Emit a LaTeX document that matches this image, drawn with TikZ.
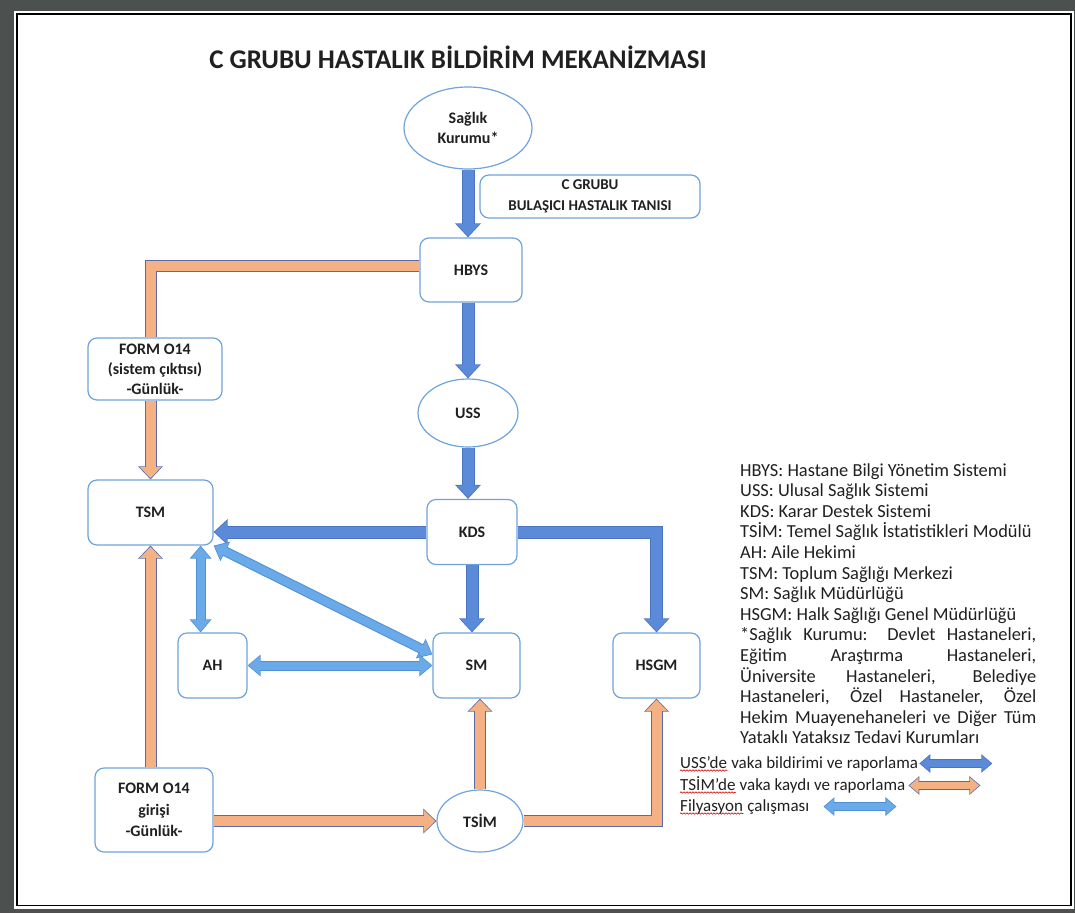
\documentclass[tikz,border=0pt]{standalone}
\usepackage{fontspec}
\setmainfont{Carlito}
\usetikzlibrary{shapes.geometric,arrows.meta,decorations.pathmorphing}
\definecolor{nodeblue}{HTML}{6FA3DC}
\definecolor{ussfill}{HTML}{5B8AD9}
\definecolor{ussline}{HTML}{4A74C2}
\definecolor{tsimfill}{HTML}{F4B183}
\definecolor{tsimline}{HTML}{5A6AA8}
\definecolor{filfill}{HTML}{6AAAE8}
\definecolor{filline}{HTML}{4E8FD6}
\definecolor{txt}{HTML}{202020}
\definecolor{framegray}{HTML}{4C5150}
\begin{document}
\begin{tikzpicture}[x=1pt, y=-1pt,
  box/.style={draw=nodeblue, line width=1.2pt, rounded corners=9pt, fill=white, align=center, inner sep=0pt, text=txt, font=\bfseries\fontsize{16}{20}\selectfont},
  oval/.style={ellipse, draw=nodeblue, line width=1.2pt, fill=white, align=center, inner sep=0pt, text=txt, font=\bfseries\fontsize{16}{20}\selectfont},
  uss/.style={draw=ussfill, line width=11pt, shorten >=1.3pt, -{Triangle[width=22pt,length=12pt]},
    preaction={draw=ussline, line width=13pt, shorten >=0pt, -{Triangle[width=25pt,length=14pt]}}},
  tsim/.style={draw=tsimfill, line width=10pt, shorten >=1.3pt, -{Triangle[width=21pt,length=11pt]},
    preaction={draw=tsimline, line width=12pt, shorten >=0pt, -{Triangle[width=24pt,length=13pt]}}},
  tsimbar/.style={draw=tsimfill, line width=10pt, preaction={draw=tsimline, line width=12pt}},
  fil/.style={draw=filfill, line width=8pt, shorten >=1.2pt, shorten <=1.2pt,
    {Triangle[width=18pt,length=11pt]}-{Triangle[width=18pt,length=11pt]},
    preaction={draw=filline, line width=10pt, shorten >=0pt, shorten <=0pt,
    {Triangle[width=21pt,length=13pt]}-{Triangle[width=21pt,length=13pt]}}},
  legarr/.style 2 args={draw=#1, line width=7pt, shorten >=1.2pt, shorten <=1.2pt,
    {Triangle[width=15pt,length=9pt]}-{Triangle[width=15pt,length=9pt]},
    preaction={draw=#2, line width=9pt, shorten >=0pt, shorten <=0pt,
    {Triangle[width=18pt,length=11pt]}-{Triangle[width=18pt,length=11pt]}}},
  legtxt/.style={inner sep=0pt, anchor=base west, text=txt, font=\fontsize{17}{20.6}\selectfont},
  wavy/.style={draw=red!85!black, line width=0.6pt, decorate, decoration={snake, amplitude=0.7pt, segment length=3pt}}]
\useasboundingbox (0,0) rectangle (1075,913);
\fill[framegray] (0,0) rectangle (1075,913);
\fill[white] (14,11) rectangle (1074,909);
\draw[black, line width=1.5pt] (17,14) rectangle (1071,905.5);

\node[text=txt, font=\bfseries\fontsize{27}{32}\selectfont] (title) at (458,57) {C GRUBU HASTALIK BİLDİRİM MEKANİZMASI};

\node[oval, minimum width=128pt, minimum height=82pt] (saglik) at (468,128) {Sağlık\\Kurumu*};
\node[box, minimum width=220pt, minimum height=43pt, font=\bfseries\fontsize{15}{21}\selectfont] (tani) at (590,196.5) {C GRUBU\\BULAŞICI HASTALIK TANISI};
\node[box, minimum width=102pt, minimum height=64pt] (hbys) at (471,270) {HBYS};
\node[oval, minimum width=100pt, minimum height=68pt] (usn) at (468,413) {USS};
\node[box, minimum width=90pt, minimum height=65pt] (kds) at (472,532) {KDS};
\node[box, minimum width=134pt, minimum height=62pt] (form1) at (155,369) {FORM O14\\(sistem çıktısı)\\-Günlük-};
\node[box, minimum width=125pt, minimum height=65pt] (tsm) at (150.5,512.5) {TSM};
\node[box, minimum width=69pt, minimum height=65pt] (ah) at (212.5,665.5) {AH};
\node[box, minimum width=87pt, minimum height=65pt] (sm) at (476.5,665.5) {SM};
\node[box, minimum width=87pt, minimum height=65pt] (hsgm) at (656.5,665.5) {HSGM};
\node[box, minimum width=118pt, minimum height=84pt, font=\bfseries\fontsize{16}{21.5}\selectfont] (form2) at (154,810) {FORM O14\\girişi\\-Günlük-};
\node[oval, minimum width=86pt, minimum height=62pt] (tsimn) at (480,821) {TSİM};

\draw[uss] (saglik.south) -- (saglik.south |- hbys.north);
\draw[uss] (hbys.south -| usn.north) -- (usn.north);
\draw[uss] (usn.south) -- (usn.south |- kds.north);
\draw[uss] (kds.south) -- (kds.south |- sm.north);
\draw[uss] (kds.west) -- (kds.west -| tsm.east);
\draw[uss] (kds.east) -| (hsgm.north);

\draw[fil] ([xshift=-13pt]tsm.south east) -- ([xshift=-13pt]tsm.south east |- ah.north);
\draw[fil] (tsm.south east) -- ([yshift=-22pt]sm.north west);
\draw[fil] (ah.east) -- (sm.west);

\draw[tsimbar] ([yshift=4pt]hbys.west) -| (form1.north -| tsm.north);
\draw[tsim] (form1.south -| tsm.north) -- (tsm.north);
\draw[tsim] (form2.north -| tsm.south) -- (tsm.south);
\draw[tsim] (form2.east |- tsimn.west) -- (tsimn.west);
\draw[tsim] (tsimn.north) -- (tsimn.north |- sm.south);
\draw[tsim] (tsimn.east) -| (hsgm.south);

\node[legtxt, font=\fontsize{18.4}{20.6}\selectfont] (abbr) at (740,476) {\parbox[t]{296pt}{HBYS: Hastane Bilgi Yönetim Sistemi\\
USS: Ulusal Sağlık Sistemi\\
KDS: Karar Destek Sistemi\\
TSİM: Temel Sağlık İstatistikleri Modülü\\
AH: Aile Hekimi\\
TSM: Toplum Sağlığı Merkezi\\
SM: Sağlık Müdürlüğü\\
HSGM: Halk Sağlığı Genel Müdürlüğü\\{}*Sağlık Kurumu: Devlet Hastaneleri,\linebreak
Eğitim Araştırma Hastaneleri,\linebreak
Üniversite Hastaneleri, Belediye\linebreak
Hastaneleri, Özel Hastaneler, Özel\linebreak
Hekim Muayenehaneleri ve Diğer Tüm\linebreak
Yataklı Yataksız Tedavi Kurumları}};

\node[legtxt] (k1w) at (680,768) {USS’de};
\node[legtxt, xshift=3.8pt] (k1) at (k1w.base east) {vaka bildirimi ve raporlama};
\node[legtxt] (k2w) at (680,790) {TSİM’de};
\node[legtxt, xshift=3.8pt] (k2) at (k2w.base east) {vaka kaydı ve raporlama};
\node[legtxt] (k3w) at (680,811) {Filyasyon};
\node[legtxt, xshift=3.8pt] (k3) at (k3w.base east) {çalışması};
\draw[wavy] ([yshift=-2.5pt]k1w.base west) -- ([yshift=-2.5pt]k1w.base east);
\draw[wavy] ([yshift=-2.5pt]k2w.base west) -- ([yshift=-2.5pt]k2w.base east);
\draw[wavy] ([yshift=-2.5pt]k3w.base west) -- ([yshift=-2.5pt]k3w.base east);
\coordinate (k1s) at ([xshift=1pt]k1.east);
\coordinate (k1e) at ([xshift=74pt]k1.east);
\coordinate (k2s) at ([xshift=3pt]k2.east);
\coordinate (k2e) at ([xshift=75pt]k2.east);
\coordinate (k3s) at ([xshift=14pt]k3.east);
\coordinate (k3e) at ([xshift=87pt]k3.east);
\draw[legarr={ussfill}{ussline}] (k1s) -- (k1e);
\draw[legarr={tsimfill}{tsimline}] (k2s) -- (k2e);
\draw[legarr={filfill}{filline}] (k3s) -- (k3e);
\end{tikzpicture}
\end{document}
